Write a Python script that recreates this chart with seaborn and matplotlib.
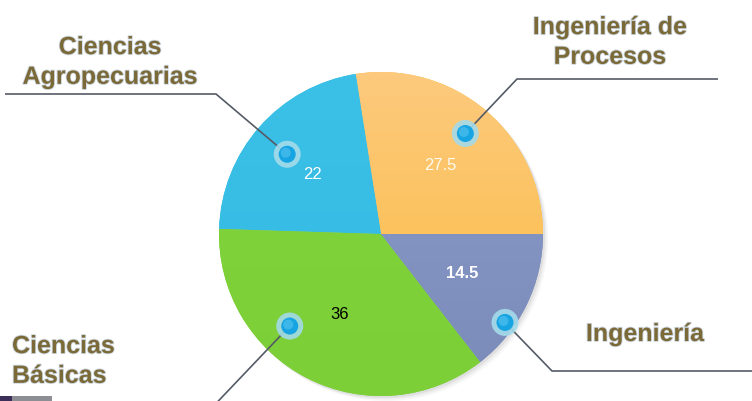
import numpy as np
import matplotlib
matplotlib.use("Agg")
import matplotlib.pyplot as plt
import matplotlib.patheffects as pe
from matplotlib.patches import Circle, Rectangle
from matplotlib.colors import LinearSegmentedColormap
import seaborn as sns

# data
labels = ["Ingeniería de\nProcesos", "Ciencias\nAgropecuarias", "Ciencias\nBásicas", "Ingeniería"]
values = [27.5, 22, 36, 14.5]
top_colors = ["#fdca7e", "#3bc0e7", "#82d43d", "#8b9cca"]
bottom_colors = ["#fbba3c", "#34bbe3", "#7ccf37", "#7a8bb9"]
value_colors = ["#fffaf0", "white", "black", "white"]
value_weights = ["normal", "normal", "normal", "bold"]

sns.set_theme(style="white")
plt.rcParams["font.family"] = ["Liberation Sans", "DejaVu Sans"]

W, H = 752, 401
fig = plt.figure(figsize=(W / 100, H / 100), dpi=100)
ax = fig.add_axes([0, 0, 1, 1])

cx, cy, R = 381, H - 234, 162

# soft shadow behind the pie
for k, a in zip([5, 3.5, 2], [0.06, 0.08, 0.12]):
    ax.add_patch(Circle((cx + k, cy - k), R, color="#7a7a7a", alpha=a, lw=0, zorder=0))

total = sum(values)
wedges, _, autotexts = ax.pie(
    values, colors=bottom_colors, startangle=0, counterclock=True,
    center=(cx, cy), radius=R, autopct=lambda p: f"{p * total / 100:g}",
    pctdistance=0.56, wedgeprops=dict(linewidth=0), textprops=dict(fontsize=12),
)

# vertical gradient inside each wedge
for w, c1, c2 in zip(wedges, top_colors, bottom_colors):
    cmap = LinearSegmentedColormap.from_list("g", [c2, c1])
    grad = np.linspace(0, 1, 256).reshape(-1, 1)
    im = ax.imshow(grad, cmap=cmap, extent=(cx - R, cx + R, cy - R, cy + R),
                   origin="lower", aspect="auto", zorder=1.5)
    im.set_clip_path(w)

for t, col, fw in zip(autotexts, value_colors, value_weights):
    t.set_color(col)
    t.set_fontweight(fw)
    t.set_zorder(5)

# leader lines with dot markers
dot_frac = [0.505, 0.513, 0.363, 0.32]
dot_r = [0.81, 0.76, 0.80, 0.94]
elbows = [(517, 79), (216, 94), (205, 415), (552, 371)]
line_end = [718, 5, None, 752]
for w, f, rr, (ex, ey), le in zip(wedges, dot_frac, dot_r, elbows, line_end):
    ang = np.deg2rad(w.theta1 + f * (w.theta2 - w.theta1))
    dx, dy = cx + rr * R * np.cos(ang), cy + rr * R * np.sin(ang)
    xs, ys = [dx, ex], [dy, H - ey]
    if le is not None:
        xs.append(le)
        ys.append(H - ey)
    ax.plot(xs, ys, color="#555b66", lw=1.2, zorder=3, solid_capstyle="butt")
    ax.add_patch(Circle((dx, dy), 13.5, color="#a3dbea", alpha=0.9, lw=0, zorder=4))
    ax.add_patch(Circle((dx, dy), 8.5, color="#16a4e3", lw=0, zorder=4))
    ax.add_patch(Circle((dx - 1.5, dy + 1.5), 5, color="#5fc8f1", alpha=0.55, lw=0, zorder=4))

# category labels
label_pos = [(610, 42, "center"), (110, 62, "center"), (12, 361, "left"), (645, 334, "center")]
for lab, (lx, ly, ha) in zip(labels, label_pos):
    ax.text(lx, H - ly, lab, ha=ha, va="center", fontsize=18, fontweight="bold",
            color="#7b6a37", linespacing=1.3, zorder=6,
            path_effects=[pe.withStroke(linewidth=1.3, foreground="#cdd8e2")])

# small leftover bar at bottom-left corner
ax.add_patch(Rectangle((0, 0), 12, 5, color="#3b2f5a", lw=0, zorder=2))
ax.add_patch(Rectangle((12, 0), 40, 5, color="#8d8d94", lw=0, zorder=2))

ax.set_xlim(0, W)
ax.set_ylim(0, H)
ax.set_aspect("auto")
ax.axis("off")
fig.savefig("out.png", dpi=100, facecolor="white")
